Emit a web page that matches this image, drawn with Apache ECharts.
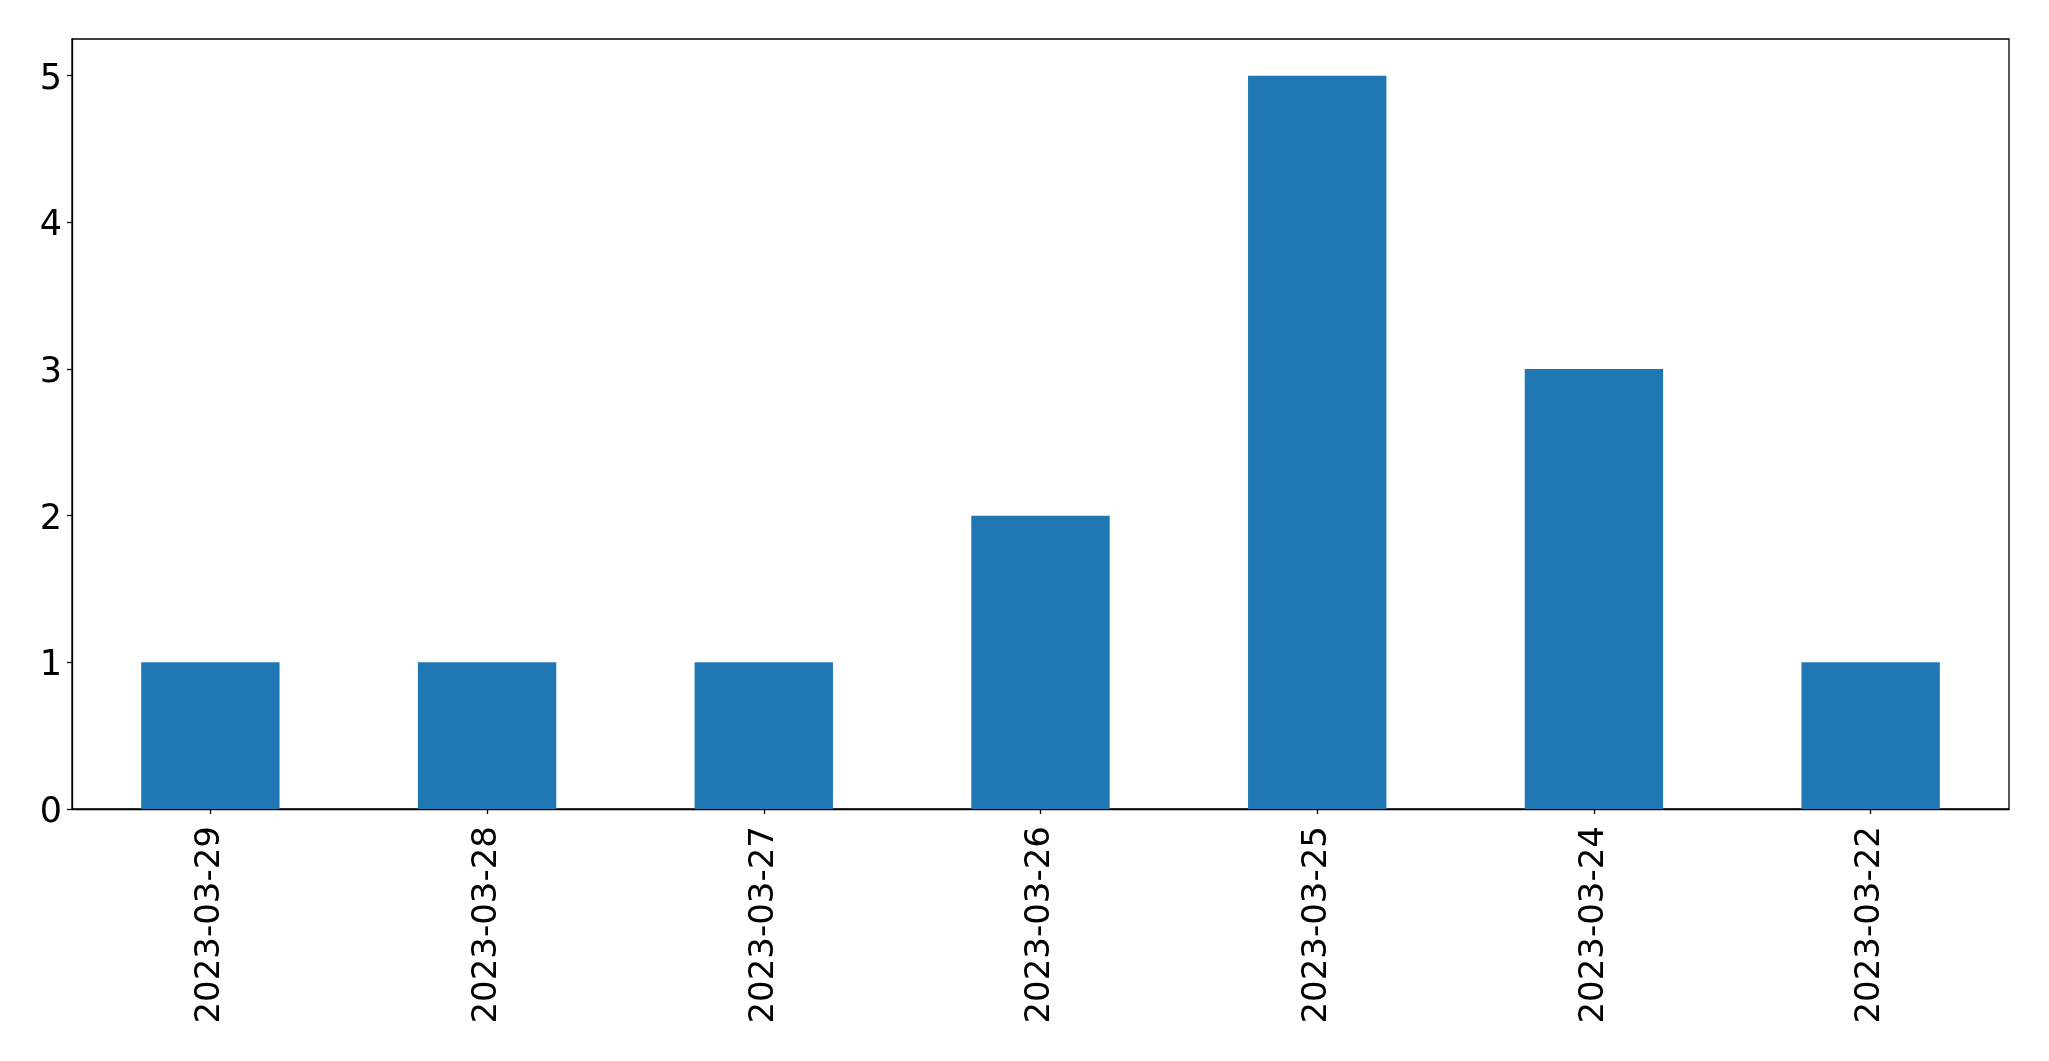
<!DOCTYPE html>
<html>
<head>
<meta charset="utf-8">
<script src="https://cdn.jsdelivr.net/npm/echarts@6/dist/echarts.min.js"></script>
<style>
html,body{margin:0;padding:0;background:#fff;}
#c{width:2049px;height:1061px;}
</style>
</head>
<body>
<div id="c"></div>
<script>
const categories = ['2023-03-29','2023-03-28','2023-03-27','2023-03-26','2023-03-25','2023-03-24','2023-03-22'];
const counts = [1, 1, 1, 2, 5, 3, 1];
const yTicks = [0, 1, 2, 3, 4, 5];

const chart = echarts.init(document.getElementById('c'), null, {renderer: 'canvas'});
const font = 'DejaVu Sans';
chart.setOption({
  animation: false,
  backgroundColor: '#ffffff',
  grid: {
    left: 72, top: 39, right: 40, bottom: 252,
    show: true, borderColor: '#000', borderWidth: 1.3, backgroundColor: 'transparent'
  },
  xAxis: {
    type: 'category',
    data: categories,
    boundaryGap: true,
    axisLine: {show: true, lineStyle: {color: '#000', width: 1.3}},
    axisTick: {show: true, alignWithLabel: true, length: 5, lineStyle: {color: '#000', width: 1.3}},
    axisLabel: {rotate: 90, margin: 17, color: '#000', fontSize: 34, fontFamily: font},
    splitLine: {show: false}
  },
  yAxis: {
    type: 'value',
    min: 0, max: 5.25, interval: 1,
    axisLine: {show: true, lineStyle: {color: '#000', width: 1.3}},
    axisTick: {show: true, length: 5, lineStyle: {color: '#000', width: 1.3}, customValues: yTicks},
    axisLabel: {
      margin: 10, color: '#000', fontSize: 35, fontFamily: font, customValues: yTicks,
      formatter: function (v) { return '{n|' + v + '}'; },
      rich: {n: {fontSize: 35, fontFamily: font, color: '#000', padding: [8, 0, 0, 0]}}
    },
    splitLine: {show: false}
  },
  series: [{
    type: 'bar',
    data: counts,
    barWidth: '50%',
    itemStyle: {color: '#1f77b4'}
  }]
});
</script>
</body>
</html>
